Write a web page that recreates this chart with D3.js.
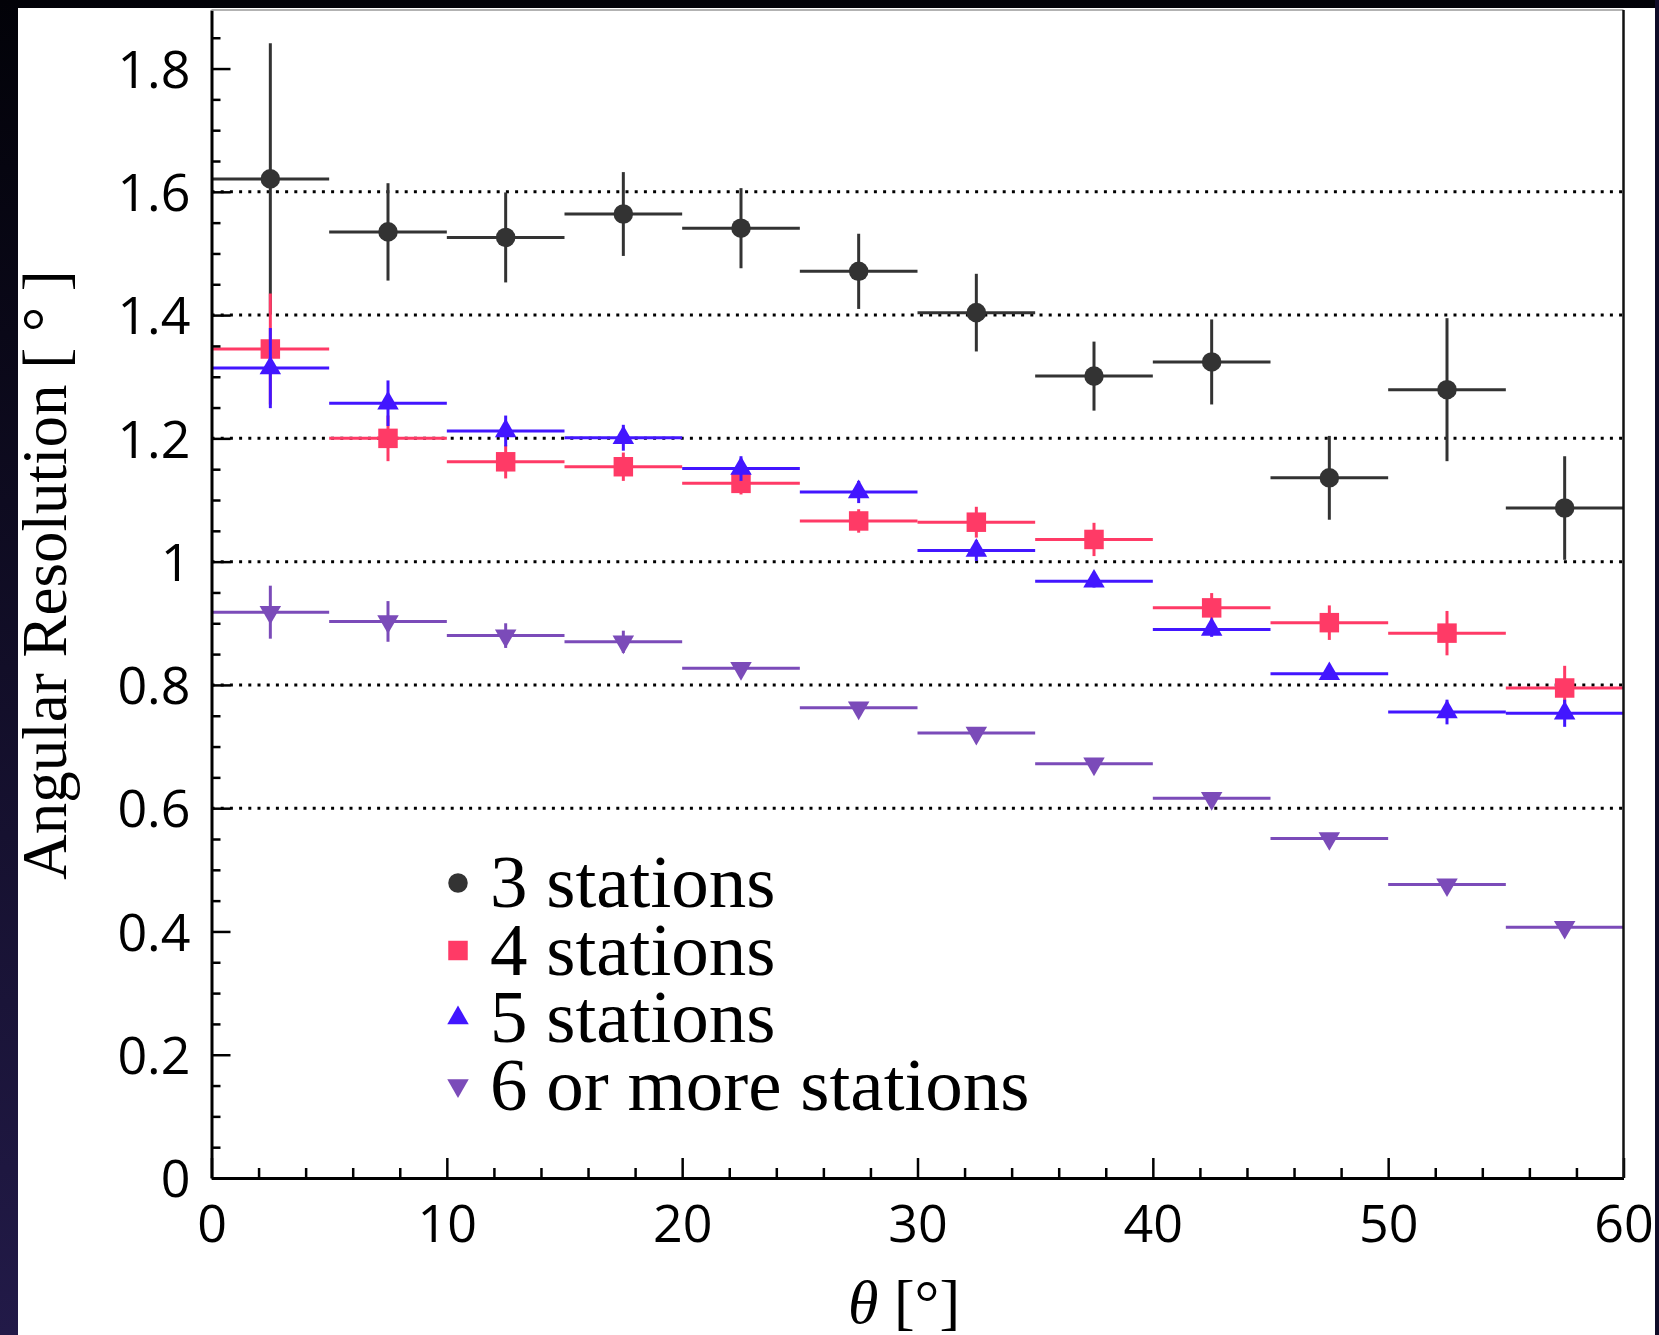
<!DOCTYPE html>
<html>
<head>
<meta charset="utf-8">
<script src="https://cdn.jsdelivr.net/npm/d3@7"></script>
<style>
  body { margin: 0; background: #05051a; }
  svg { display: block; }
</style>
</head>
<body>
<svg width="1659" height="1335"></svg>
<script>
// zenith angle bins (centres, deg) and resolution per station multiplicity
var binCenters = [2.5, 7.5, 12.5, 17.5, 22.5, 27.5, 32.5, 37.5, 42.5, 47.5, 52.5, 57.5];
var binHalf = 2.5;

var res3 = [1.621, 1.535, 1.526, 1.564, 1.541, 1.471, 1.404, 1.301, 1.324, 1.136, 1.279, 1.087];
var err3 = [0.22, 0.079, 0.073, 0.068, 0.065, 0.061, 0.063, 0.056, 0.069, 0.068, 0.116, 0.084];
var res4 = [1.345, 1.200, 1.162, 1.154, 1.127, 1.066, 1.064, 1.036, 0.925, 0.901, 0.884, 0.795];
var err4 = [0.09, 0.037, 0.027, 0.023, 0.018, 0.019, 0.025, 0.027, 0.024, 0.028, 0.036, 0.036];
var res5 = [1.314, 1.257, 1.212, 1.201, 1.151, 1.113, 1.018, 0.968, 0.890, 0.818, 0.756, 0.754];
var err5 = [0.065, 0.037, 0.025, 0.021, 0.02, 0.018, 0.017, 0.01, 0.012, 0.01, 0.02, 0.022];
var res6 = [0.918, 0.903, 0.880, 0.870, 0.827, 0.763, 0.722, 0.672, 0.616, 0.551, 0.476, 0.407];
var err6 = [0.043, 0.033, 0.02, 0.018, 0.01, 0.008, 0.008, 0.008, 0.008, 0.006, 0.006, 0.006];

var seriesNames = ["3 stations", "4 stations", "5 stations", "6 or more stations"];
var xTicks = [0, 10, 20, 30, 40, 50, 60];
var yTicks = [0, 0.2, 0.4, 0.6, 0.8, 1.0, 1.2, 1.4, 1.6, 1.8];
var gridValues = [0.6, 0.8, 1.0, 1.2, 1.4, 1.6];

var svg = d3.select("svg");

// dark backdrop with white panel
var grad = svg.append("defs").append("linearGradient")
    .attr("id", "bg").attr("x1", 0).attr("y1", 0).attr("x2", 0).attr("y2", 1);
grad.append("stop").attr("offset", "0%").attr("stop-color", "#020208");
grad.append("stop").attr("offset", "100%").attr("stop-color", "#221a48");
svg.append("rect").attr("width", 1659).attr("height", 1335).attr("fill", "url(#bg)");
svg.append("rect").attr("x", 18).attr("y", 8).attr("width", 1637).attr("height", 1327).attr("fill", "#fff");

var x = d3.scaleLinear().domain([0, 60]).range([211.5, 1623.5]),
    y = d3.scaleLinear().domain([0, 1.895]).range([1178, 10]);

var g = svg.append("g");

// dotted grid
g.selectAll(".grid")
  .data(gridValues)
  .enter().append("line")
    .attr("x1", x(0)).attr("x2", x(60))
    .attr("y1", function(d) { return y(d); })
    .attr("y2", function(d) { return y(d); })
    .attr("stroke", "#000")
    .attr("stroke-width", 3)
    .attr("stroke-dasharray", "3,6.2");

var series = [
  {name: seriesNames[0], res: res3, err: err3, color: "#333333", shape: d3.symbolCircle, size: 300, rot: 0},
  {name: seriesNames[1], res: res4, err: err4, color: "#ff3a66", shape: d3.symbolSquare, size: 380, rot: 0},
  {name: seriesNames[2], res: res5, err: err5, color: "#4216ff", shape: d3.symbolTriangle, size: 200, rot: 0},
  {name: seriesNames[3], res: res6, err: err6, color: "#7b4bb9", shape: d3.symbolTriangle, size: 200, rot: 180}
];

series.forEach(function(s) {
  var pts = binCenters.map(function(c, i) { return {x: c, v: s.res[i], e: s.err[i]}; });
  var layer = g.append("g");
  layer.selectAll(".hbar").data(pts).enter().append("line")
      .attr("x1", function(d) { return x(d.x - binHalf); })
      .attr("x2", function(d) { return x(d.x + binHalf); })
      .attr("y1", function(d) { return y(d.v); })
      .attr("y2", function(d) { return y(d.v); })
      .attr("stroke", s.color).attr("stroke-width", 3);
  layer.selectAll(".vbar").data(pts).enter().append("line")
      .attr("x1", function(d) { return x(d.x); })
      .attr("x2", function(d) { return x(d.x); })
      .attr("y1", function(d) { return y(d.v - d.e); })
      .attr("y2", function(d) { return y(d.v + d.e); })
      .attr("stroke", s.color).attr("stroke-width", 3);
  layer.selectAll(".mark").data(pts).enter().append("path")
      .attr("d", d3.symbol().type(s.shape).size(s.size))
      .attr("transform", function(d) {
        return "translate(" + x(d.x) + "," + y(d.v) + ") rotate(" + s.rot + ")";
      })
      .attr("fill", s.color);
});

// axes, ticks pointing inwards
var minorY = d3.range(0.05, 1.9, 0.05).filter(function(v) { return Math.abs(v / 0.2 - Math.round(v / 0.2)) > 1e-6; });
var minorX = d3.range(2, 60, 2).filter(function(v) { return v % 10 !== 0; });

g.append("g")
    .attr("transform", "translate(" + x(0) + ",0)")
    .call(d3.axisLeft(y).tickValues(minorY).tickSize(-9).tickFormat(""))
    .call(function(a) { a.select(".domain").remove(); });
g.append("g")
    .attr("transform", "translate(0," + y(0) + ")")
    .call(d3.axisBottom(x).tickValues(minorX).tickSize(-10).tickFormat(""))
    .call(function(a) { a.select(".domain").remove(); });

var yAxis = g.append("g")
    .attr("transform", "translate(" + x(0) + ",0)")
    .call(d3.axisLeft(y).tickValues(yTicks).tickSize(-19).tickSizeOuter(0).tickPadding(21)
      .tickFormat(function(d) { return d === 0 ? "0" : d === 1 ? "1" : d3.format(".1f")(d); }));
var xAxis = g.append("g")
    .attr("transform", "translate(0," + y(0) + ")")
    .call(d3.axisBottom(x).tickValues(xTicks).tickSize(-20).tickSizeOuter(0).tickPadding(27));

g.selectAll(".tick line").attr("stroke", "#000").attr("stroke-width", 2.5);
g.selectAll(".domain").attr("stroke", "#000").attr("stroke-width", 3);
g.selectAll(".tick text")
    .attr("fill", "#000")
    .style("font-family", "'Open Sans', sans-serif")
    .style("font-size", "52px");
yAxis.selectAll(".tick text").attr("dy", "0.36em");

// top and right frame
g.append("line").attr("x1", x(0)).attr("x2", x(60)).attr("y1", y(1.895)).attr("y2", y(1.895))
    .attr("stroke", "#999").attr("stroke-width", 1.5);
g.append("line").attr("x1", x(60)).attr("x2", x(60)).attr("y1", y(1.895)).attr("y2", y(0))
    .attr("stroke", "#111").attr("stroke-width", 2.5);

// axis titles
svg.append("text")
    .attr("transform", "translate(66,575) rotate(-90)")
    .attr("text-anchor", "middle")
    .style("font-family", "'Liberation Serif', serif")
    .style("font-size", "63px")
    .text("Angular Resolution  [ ° ]");

var xt = svg.append("text")
    .attr("x", 904).attr("y", 1323)
    .attr("text-anchor", "middle")
    .style("font-family", "'Liberation Serif', serif")
    .style("font-size", "62px");
xt.append("tspan").style("font-style", "italic").text("θ");
xt.append("tspan").text(" [°]");

// legend
var legend = svg.append("g").selectAll(".leg")
    .data(series)
  .enter().append("g")
    .attr("transform", function(d, i) { return "translate(458," + (883 + i * 67.5) + ")"; });
legend.append("path")
    .attr("d", function(d) { return d3.symbol().type(d.shape).size(d.size)(); })
    .attr("transform", function(d) { return "rotate(" + d.rot + ")"; })
    .attr("fill", function(d) { return d.color; });
legend.append("text")
    .attr("x", 32).attr("y", 24)
    .style("font-family", "'Liberation Serif', serif")
    .style("font-size", "75px")
    .text(function(d) { return d.name; });

// right dark strip drawn last (clips the "60" label like the original)
svg.append("rect").attr("x", 1655).attr("y", 0).attr("width", 4).attr("height", 1335).attr("fill", "#100c28");
</script>
</body>
</html>
